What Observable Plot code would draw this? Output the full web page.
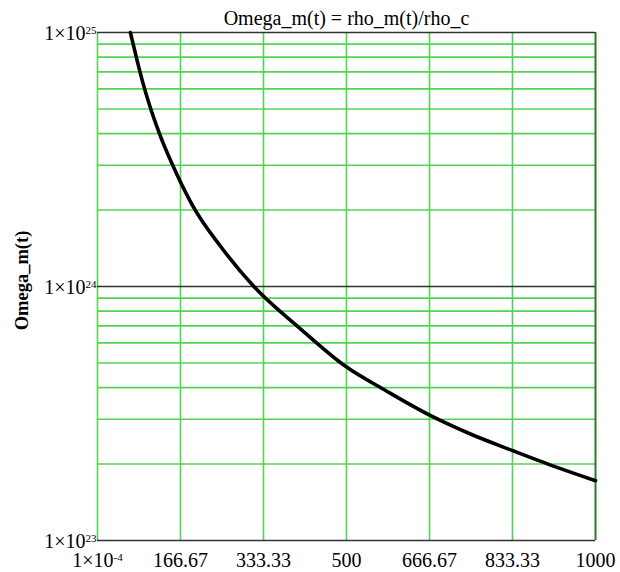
<!DOCTYPE html>
<html>
<head>
<meta charset="utf-8">
<script src="https://cdn.jsdelivr.net/npm/d3@7"></script>
<script src="https://cdn.jsdelivr.net/npm/@observablehq/plot@0.6"></script>
<style>
  html, body { margin: 0; padding: 0; background: white; }
</style>
</head>
<body>
<div id="chart"></div>
<script>
const titleText = "Omega_m(t) = rho_m(t)/rho_c";
const yLabel = "Omega_m(t)";

const xTicks = [0.0001, 166.67, 333.33, 500, 666.67, 833.33, 1000];
const xTickLabels = ["1×10^-4", "166.67", "333.33", "500", "666.67", "833.33", "1000"];
const yMajor = [1e23, 1e24, 1e25];
const yMajorLabels = ["1×10^23", "1×10^24", "1×10^25"];
const yMinor = [2e23, 3e23, 4e23, 5e23, 6e23, 7e23, 8e23, 9e23,
                2e24, 3e24, 4e24, 5e24, 6e24, 7e24, 8e24, 9e24];

const tValues = [66, 80, 93, 110, 126.5, 160, 193, 247, 314, 408, 498, 580, 669, 750, 836, 920, 1000];
const omegaValues = [1.0e25, 7.7e24, 6.15e24, 4.8e24, 3.9e24, 2.75e24, 2.05e24, 1.44e24, 1.0e24,
                     6.8e23, 4.85e23, 3.88e23, 3.1e23, 2.62e23, 2.25e23, 1.95e23, 1.72e23];

const data = tValues.map((t, i) => ({t, omega: omegaValues[i]}));
const xLabelMap = new Map(xTicks.map((d, i) => [d, xTickLabels[i]]));
const yLabelMap = new Map(yMajor.map((d, i) => [d, yMajorLabels[i]]));

const green = "#52d452";

const chart = Plot.plot({
  width: 620,
  height: 572,
  marginLeft: 97,
  marginRight: 25,
  marginTop: 32,
  marginBottom: 32,
  style: {fontFamily: "'Liberation Serif', 'Times New Roman', serif", fontSize: "20px", background: "white", color: "black"},
  x: {domain: [0.0001, 1000]},
  y: {type: "log", domain: [1e23, 1e25]},
  marks: [
    Plot.ruleY(yMinor, {stroke: green, strokeWidth: 1.6}),
    Plot.ruleX(xTicks.slice(0, -1), {stroke: green, strokeWidth: 1.6}),
    Plot.ruleX([1000], {stroke: "#2a7a2a", strokeWidth: 2}),
    Plot.ruleY(yMajor, {stroke: "#333", strokeWidth: 1.6}),
    Plot.line(data, {x: "t", y: "omega", stroke: "black", strokeWidth: 3.6, curve: "monotone-x"}),
    Plot.axisX({ticks: xTicks, tickFormat: d => xLabelMap.get(d), tickSize: 0, tickPadding: 12, label: null, fontSize: 20}),
    Plot.axisY({ticks: yMajor, tickFormat: d => yLabelMap.get(d), tickSize: 0, tickPadding: 1, dy: 1, label: null, fontSize: 20}),
    Plot.text([yLabel], {frameAnchor: "left", textAnchor: "middle", rotate: -90, dx: -75, dy: -6, fontWeight: "bold", fontSize: 18.5}),
    Plot.text([titleText], {frameAnchor: "top", lineAnchor: "bottom", dy: -8, fontSize: 20})
  ]
});

// render superscripts as tspans
chart.querySelectorAll("text").forEach(el => {
  const s = el.textContent;
  const m = /^(1×10)\^(-?\d+)$/.exec(s);
  if (m) {
    while (el.firstChild) el.removeChild(el.firstChild);
    const a = document.createElementNS("http://www.w3.org/2000/svg", "tspan");
    a.textContent = m[1];
    const b = document.createElementNS("http://www.w3.org/2000/svg", "tspan");
    b.textContent = m[2];
    b.setAttribute("font-size", "11");
    b.setAttribute("dy", "-6");
    el.appendChild(a);
    el.appendChild(b);
  }
});

document.getElementById("chart").appendChild(chart);
</script>
</body>
</html>
